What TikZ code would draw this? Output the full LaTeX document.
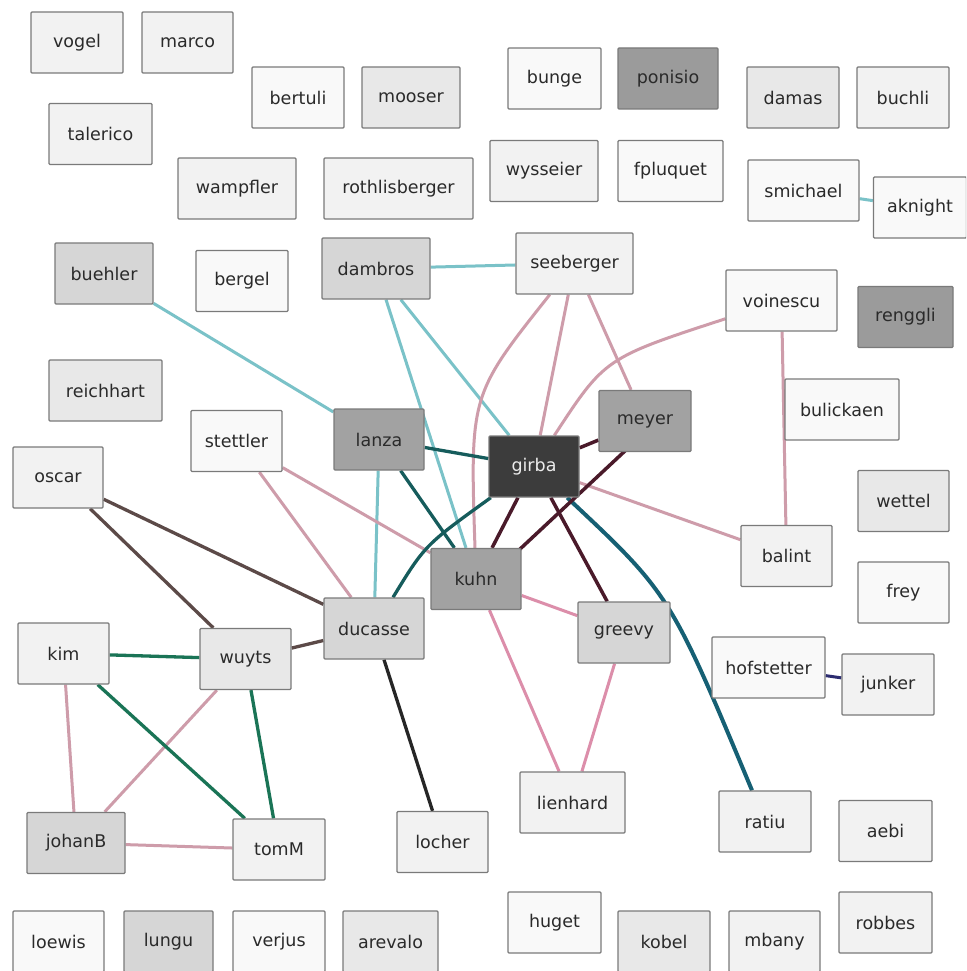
\documentclass[tikz,border=0pt]{standalone}
\usepackage{fontspec}
\newfontfamily\lblfont{DejaVu Sans}
\usetikzlibrary{backgrounds}

% node fills
\definecolor{fA}{HTML}{F9F9F9}
\definecolor{fB}{HTML}{F2F2F2}
\definecolor{fC}{HTML}{E8E8E8}
\definecolor{fD}{HTML}{D6D6D6}
\definecolor{fE}{HTML}{A2A2A2}
\definecolor{fF}{HTML}{9B9B9B}
\definecolor{fG}{HTML}{3C3C3C}
\definecolor{boxedge}{HTML}{7A7A7A}
\definecolor{labeltext}{HTML}{2A2A2A}
% edge colours
\definecolor{cLteal}{RGB}{122,194,200}
\definecolor{cPink}{RGB}{206,156,170}
\definecolor{cPinkB}{RGB}{220,142,170}
\definecolor{cDteal}{RGB}{22,92,92}
\definecolor{cBlueteal}{RGB}{22,96,116}
\definecolor{cMaroon}{RGB}{74,26,42}
\definecolor{cBrown}{RGB}{92,74,72}
\definecolor{cGreen}{RGB}{26,116,86}
\definecolor{cNavy}{RGB}{44,44,112}

\begin{document}
\begin{tikzpicture}[x=1pt,y=-1pt,
  box/.style={draw=boxedge, line width=1.3pt, rounded corners=1pt,
    minimum height=61pt, inner sep=1pt, text=labeltext,
    font=\lblfont\fontsize{17.5}{19}\selectfont},
  lteal/.style={draw=cLteal, line width=3pt},
  pinkedge/.style={draw=cPink, line width=3pt},
  pinkedgeB/.style={draw=cPinkB, line width=3pt},
  dteal/.style={draw=cDteal, line width=3.3pt},
  bteal/.style={draw=cBlueteal, line width=4pt},
  maroon/.style={draw=cMaroon, line width=3.5pt},
  brownedge/.style={draw=cBrown, line width=3.3pt},
  greenedge/.style={draw=cGreen, line width=3.3pt},
  navyedge/.style={draw=cNavy, line width=3pt},
  blackedge/.style={draw=black!85, line width=3.3pt}]

\useasboundingbox (0,0) rectangle (966,971);
\clip (0,0) rectangle (966,971);

% people
\node[box, fill=fB, minimum width=92pt]  (vogel)     at (77,42.5)    {vogel};
\node[box, fill=fB, minimum width=91pt]  (marco)     at (187.5,42.5) {marco};
\node[box, fill=fA, minimum width=92pt]  (bertuli)   at (298,97.5)   {bertuli};
\node[box, fill=fC, minimum width=98pt]  (mooser)    at (411,97.5)   {mooser};
\node[box, fill=fB, minimum width=103pt] (talerico)  at (100.5,134)  {talerico};
\node[box, fill=fA, minimum width=93pt]  (bunge)     at (554.5,78.5) {bunge};
\node[box, fill=fF, minimum width=100pt] (ponisio)   at (668,78.5)   {ponisio};
\node[box, fill=fC, minimum width=92pt]  (damas)     at (793,97.5)   {damas};
\node[box, fill=fB, minimum width=92pt]  (buchli)    at (903,97.5)   {buchli};
\node[box, fill=fB, minimum width=118pt] (wampfler)  at (237,188.5)  {wampfler};
\node[box, fill=fB, minimum width=149pt] (rothlisberger) at (398.5,188.5) {rothlisberger};
\node[box, fill=fB, minimum width=108pt] (wysseier)  at (544,171)    {wysseier};
\node[box, fill=fA, minimum width=105pt] (fpluquet)  at (670.5,171)  {fpluquet};
\node[box, fill=fA, minimum width=111pt] (smichael)  at (803.5,190.5) {smichael};
\node[box, fill=fA, minimum width=93pt]  (aknight)   at (920,207.5)  {aknight};
\node[box, fill=fD, minimum width=98pt]  (buehler)   at (104,273.5)  {buehler};
\node[box, fill=fA, minimum width=92pt]  (bergel)    at (242,281)    {bergel};
\node[box, fill=fD, minimum width=108pt] (dambros)   at (376,268.5)  {dambros};
\node[box, fill=fB, minimum width=117pt] (seeberger) at (574.5,263.5) {seeberger};
\node[box, fill=fA, minimum width=111pt] (voinescu)  at (781.5,300.5) {voinescu};
\node[box, fill=fF, minimum width=95pt]  (renggli)   at (905.5,317)  {renggli};
\node[box, fill=fC, minimum width=113pt] (reichhart) at (105.5,390.5) {reichhart};
\node[box, fill=fA, minimum width=91pt]  (stettler)  at (236.5,441)  {stettler};
\node[box, fill=fE, minimum width=90pt]  (lanza)     at (379,439.5)  {lanza};
\node[box, fill=fE, minimum width=92pt]  (meyer)     at (645,421)    {meyer};
\node[box, fill=fA, minimum width=114pt] (bulickaen) at (842,409.5)  {bulickaen};
\node[box, fill=fG, minimum width=90pt, text=white!92!black] (girba) at (534,466.5) {girba};
\node[box, fill=fB, minimum width=90pt]  (oscar)     at (58,477.5)   {oscar};
\node[box, fill=fC, minimum width=91pt]  (wettel)    at (903.5,501)  {wettel};
\node[box, fill=fB, minimum width=91pt]  (balint)    at (786.5,556)  {balint};
\node[box, fill=fE, minimum width=90pt]  (kuhn)      at (476,579)    {kuhn};
\node[box, fill=fA, minimum width=91pt]  (frey)      at (903.5,592.5) {frey};
\node[box, fill=fD, minimum width=100pt] (ducasse)   at (374,628.5)  {ducasse};
\node[box, fill=fD, minimum width=92pt]  (greevy)    at (624,632.5)  {greevy};
\node[box, fill=fB, minimum width=91pt]  (kim)       at (63.5,653.5) {kim};
\node[box, fill=fC, minimum width=91pt]  (wuyts)     at (245.5,659)  {wuyts};
\node[box, fill=fA, minimum width=113pt] (hofstetter) at (768.5,667.5) {hofstetter};
\node[box, fill=fB, minimum width=92pt]  (junker)    at (888,684.5)  {junker};
\node[box, fill=fB, minimum width=105pt] (lienhard)  at (572.5,802.5) {lienhard};
\node[box, fill=fB, minimum width=92pt]  (ratiu)     at (765,821.5)  {ratiu};
\node[box, fill=fB, minimum width=93pt]  (aebi)      at (885.5,831)  {aebi};
\node[box, fill=fB, minimum width=91pt]  (locher)    at (442.5,842)  {locher};
\node[box, fill=fD, minimum width=98pt]  (johanB)    at (76,843)     {johanB};
\node[box, fill=fB, minimum width=92pt]  (tomM)      at (279,849.5)  {tomM};
\node[box, fill=fA, minimum width=93pt]  (huget)     at (554.5,922.5) {huget};
\node[box, fill=fB, minimum width=93pt]  (robbes)    at (885.5,922.5) {robbes};
\node[box, fill=fA, minimum width=91pt]  (loewis)    at (58.5,941.5) {loewis};
\node[box, fill=fD, minimum width=89pt]  (lungu)     at (168.5,941.5) {lungu};
\node[box, fill=fA, minimum width=92pt]  (verjus)    at (279,941.5)  {verjus};
\node[box, fill=fC, minimum width=95pt]  (arevalo)   at (390.5,941.5) {arevalo};
\node[box, fill=fC, minimum width=92pt]  (kobel)     at (664,941.5)  {kobel};
\node[box, fill=fB, minimum width=91pt]  (mbany)     at (774.5,941.5) {mbany};

% collaborations, drawn behind the boxes on a white ground
\begin{scope}[on background layer]
  \fill[white] (0,0) rectangle (966,971);

  \draw[lteal] (buehler) -- (lanza);
  \draw[lteal] (dambros) -- (seeberger);
  \draw[lteal] (dambros) -- (kuhn);
  \draw[lteal] (dambros) -- (girba);
  \draw[lteal] (lanza) -- (ducasse);
  \draw[lteal] (smichael) -- (aknight);

  \draw[pinkedge] (seeberger) .. controls (470,395) .. (kuhn);
  \draw[pinkedge] (seeberger) -- (girba);
  \draw[pinkedge] (seeberger) -- (meyer);
  \draw[pinkedge] (voinescu) .. controls (605,358) .. (girba);
  \draw[pinkedge] (voinescu) -- (balint);
  \draw[pinkedge] (girba) -- (balint);
  \draw[pinkedge] (stettler) -- (kuhn);
  \draw[pinkedge] (stettler) -- (ducasse);
  \draw[pinkedgeB] (kuhn) -- (greevy);
  \draw[pinkedgeB] (kuhn) -- (lienhard);
  \draw[pinkedgeB] (greevy) -- (lienhard);
  \draw[pinkedge] (kim) -- (johanB);
  \draw[pinkedge] (wuyts) -- (johanB);
  \draw[pinkedge] (johanB) -- (tomM);

  \draw[dteal] (lanza) -- (girba);
  \draw[dteal] (lanza) -- (kuhn);
  \draw[dteal] (ducasse) .. controls (425,545) .. (girba);
  \draw[bteal] (girba) .. controls (670,594) .. (ratiu);

  \draw[maroon] (girba) -- (meyer);
  \draw[maroon] (girba) -- (kuhn);
  \draw[maroon] ([xshift=12pt]meyer.center) -- ([xshift=12pt]kuhn.center);
  \draw[maroon] (girba) -- (greevy);

  \draw[brownedge] (oscar) -- (ducasse);
  \draw[brownedge] (oscar) -- (wuyts);
  \draw[brownedge] (wuyts) -- (ducasse);

  \draw[blackedge] (ducasse) -- (locher);

  \draw[greenedge] (kim) -- (wuyts);
  \draw[greenedge] (kim) -- (tomM);
  \draw[greenedge] (wuyts) -- (tomM);

  \draw[navyedge] (hofstetter) -- (junker);
\end{scope}
\end{tikzpicture}
\end{document}
